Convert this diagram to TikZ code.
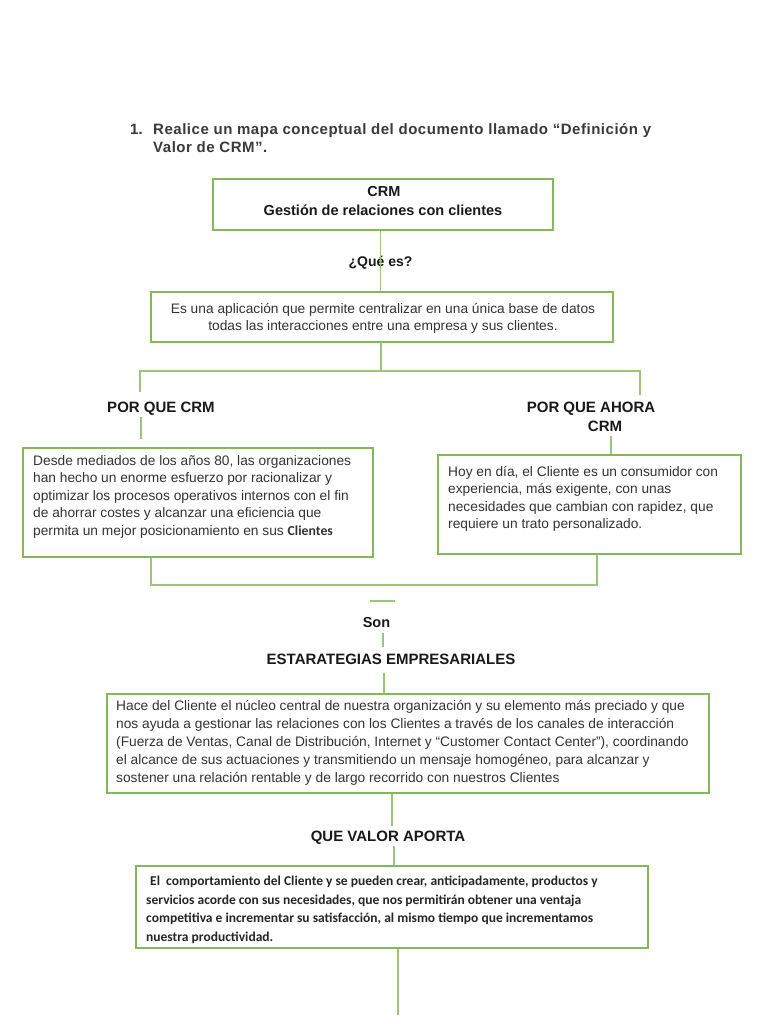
\documentclass[tikz,border=0pt]{standalone}
\usepackage{fontspec}
\setmainfont{Liberation Sans}
\newfontfamily\calfont{Carlito}
\newfontfamily\ttlfont[LetterSpace=3.5]{Liberation Sans}
\definecolor{grn}{HTML}{84B85A}
\definecolor{lgrn}{HTML}{9CC47A}
\definecolor{txt}{HTML}{333333}
\definecolor{ttl}{HTML}{3A3A3A}
\begin{document}
\begin{tikzpicture}[x=1pt,y=-1pt,
  box/.style={draw=grn, line width=1.6pt, inner sep=0pt, rectangle},
  conn/.style={draw=lgrn, line width=1.4pt},
  lbl/.style={inner sep=0pt, font=\fontsize{15}{17}\selectfont\bfseries, text=black!90, anchor=base},
  body/.style={inner sep=0pt, anchor=base west, text=txt},
]
\useasboundingbox[fill=white] (0,0) rectangle (768,1024);

% title
\node[inner sep=0pt, anchor=base west, text=ttl, font=\fontsize{15}{18}\selectfont\bfseries] (num) at (130,135) {1.};
\node[inner sep=0pt, anchor=base west, text=ttl, font=\fontsize{15}{18}\ttlfont\bfseries] (title) at (153,135)
  {\parbox[t]{620pt}{\baselineskip=18pt Realice un mapa conceptual del documento llamado “Definición y\\Valor de CRM”.}};

% boxes
\node[box, minimum width=340pt, minimum height=51pt] (crm) at (383,204.5) {};
\node[box, minimum width=462pt, minimum height=50pt] (def) at (382,317) {};
\node[box, minimum width=350pt, minimum height=109pt] (why) at (198,502.5) {};
\node[box, minimum width=303pt, minimum height=99pt] (now) at (589.5,504.5) {};
\node[box, minimum width=602pt, minimum height=99pt] (strat) at (408,743.5) {};
\node[box, minimum width=512pt, minimum height=82pt] (val) at (392,907) {};

% box texts
\node[lbl, font=\fontsize{14.5}{16}\selectfont\bfseries] (crmt1) at (384,197) {CRM};
\node[lbl, font=\fontsize{14.5}{16}\selectfont\bfseries] (crmt2) at (383,216) {Gestión de relaciones con clientes};

\node[body, anchor=base, font=\fontsize{13.75}{17}\selectfont] (deft) at (383,313.5)
  {\parbox[t]{460pt}{\centering\baselineskip=17pt Es una aplicación que permite centralizar en una única base de datos\\todas las interacciones entre una empresa y sus clientes.}};

\node[body, font=\fontsize{13.75}{17.5}\selectfont] (whyt) at (33,465)
  {\parbox[t]{345pt}{\baselineskip=17.5pt Desde mediados de los años 80, las organizaciones\\han hecho un enorme esfuerzo por racionalizar y\\optimizar los procesos operativos internos con el fin\\de ahorrar costes y alcanzar una eficiencia que\\permita un mejor posicionamiento en sus {\calfont\bfseries Clientes}}};

\node[body, font=\fontsize{13.75}{17.5}\selectfont] (nowt) at (448,476)
  {\parbox[t]{295pt}{\baselineskip=17.5pt Hoy en día, el Cliente es un consumidor con\\experiencia, más exigente, con unas\\necesidades que cambian con rapidez, que\\requiere un trato personalizado.}};

\node[body, font=\fontsize{13.75}{18}\selectfont] (stratt) at (116,710.5)
  {\parbox[t]{595pt}{\baselineskip=18pt Hace del Cliente el núcleo central de nuestra organización y su elemento más preciado y que\\nos ayuda a gestionar las relaciones con los Clientes a través de los canales de interacción\\(Fuerza de Ventas, Canal de Distribución, Internet y “Customer Contact Center”), coordinando\\el alcance de sus actuaciones y transmitiendo un mensaje homogéneo, para alcanzar y\\sostener una relación rentable y de largo recorrido con nuestros Clientes}};

\node[body, text=black!85, font=\fontsize{13.5}{18.5}\calfont\bfseries] (valt) at (146,885.5)
  {\parbox[t]{505pt}{\baselineskip=18.5pt \hspace*{4pt}El\ \ comportamiento del Cliente y se pueden crear, anticipadamente, productos y\\servicios acorde con sus necesidades, que nos permitirán obtener una ventaja\\competitiva e incrementar su satisfacción, al mismo tiempo que incrementamos\\nuestra productividad.}};

% labels
\node[lbl, font=\fontsize{14}{16}\selectfont\bfseries] (qe) at (380.5,266) {¿Qué es?};
\node[lbl] (whyl) at (161,412) {POR QUE CRM};
\node[lbl] (nowl) at (591,412) {POR QUE AHORA};
\node[lbl] (nowl2) at (605,431) {CRM};
\node[lbl, font=\fontsize{14.5}{16}\selectfont\bfseries] (son) at (376.5,627) {Son};
\node[lbl] (est) at (391,664) {ESTARATEGIAS EMPRESARIALES};
\node[lbl] (valor) at (388,841) {QUE VALOR APORTA};

% junction coordinates
\coordinate (jC) at (381,371);
\coordinate (jL) at (140,371);
\coordinate (jR) at (640,371);
\coordinate (jL2) at (140,392);
\coordinate (jR2) at (640,395);
\coordinate (w1) at (141,417);
\coordinate (w2) at (141,439);
\coordinate (n1) at (611,436);
\coordinate (bL) at (151,585);
\coordinate (bR) at (597,585);
\coordinate (d1) at (370,601);
\coordinate (d2) at (395,601);
\coordinate (s1) at (383,633);
\coordinate (s2) at (383,647);
\coordinate (e1) at (384,673);
\coordinate (v1) at (392,826);
\coordinate (v2) at (394,846);
\coordinate (end) at (398,1015);

% connectors
\draw[conn] (crm.south -| qe) -- (def.north -| qe);
\draw[conn] (def.south -| jC) -- (jC);
\draw[conn] (jL2) -- (jL) -- (jR) -- (jR2);
\draw[conn] (w1) -- (w2);
\draw[conn] (n1) -- (now.north -| n1);
\draw[conn] (why.south -| bL) -- (bL) -- (bR) -- (now.south -| bR);
\draw[conn] (d1) -- (d2);
\draw[conn] (s1) -- (s2);
\draw[conn] (e1) -- (strat.north -| e1);
\draw[conn] (strat.south -| v1) -- (v1);
\draw[conn] (v2) -- (val.north -| v2);
\draw[conn] (val.south -| end) -- (end);
\end{tikzpicture}
\end{document}
